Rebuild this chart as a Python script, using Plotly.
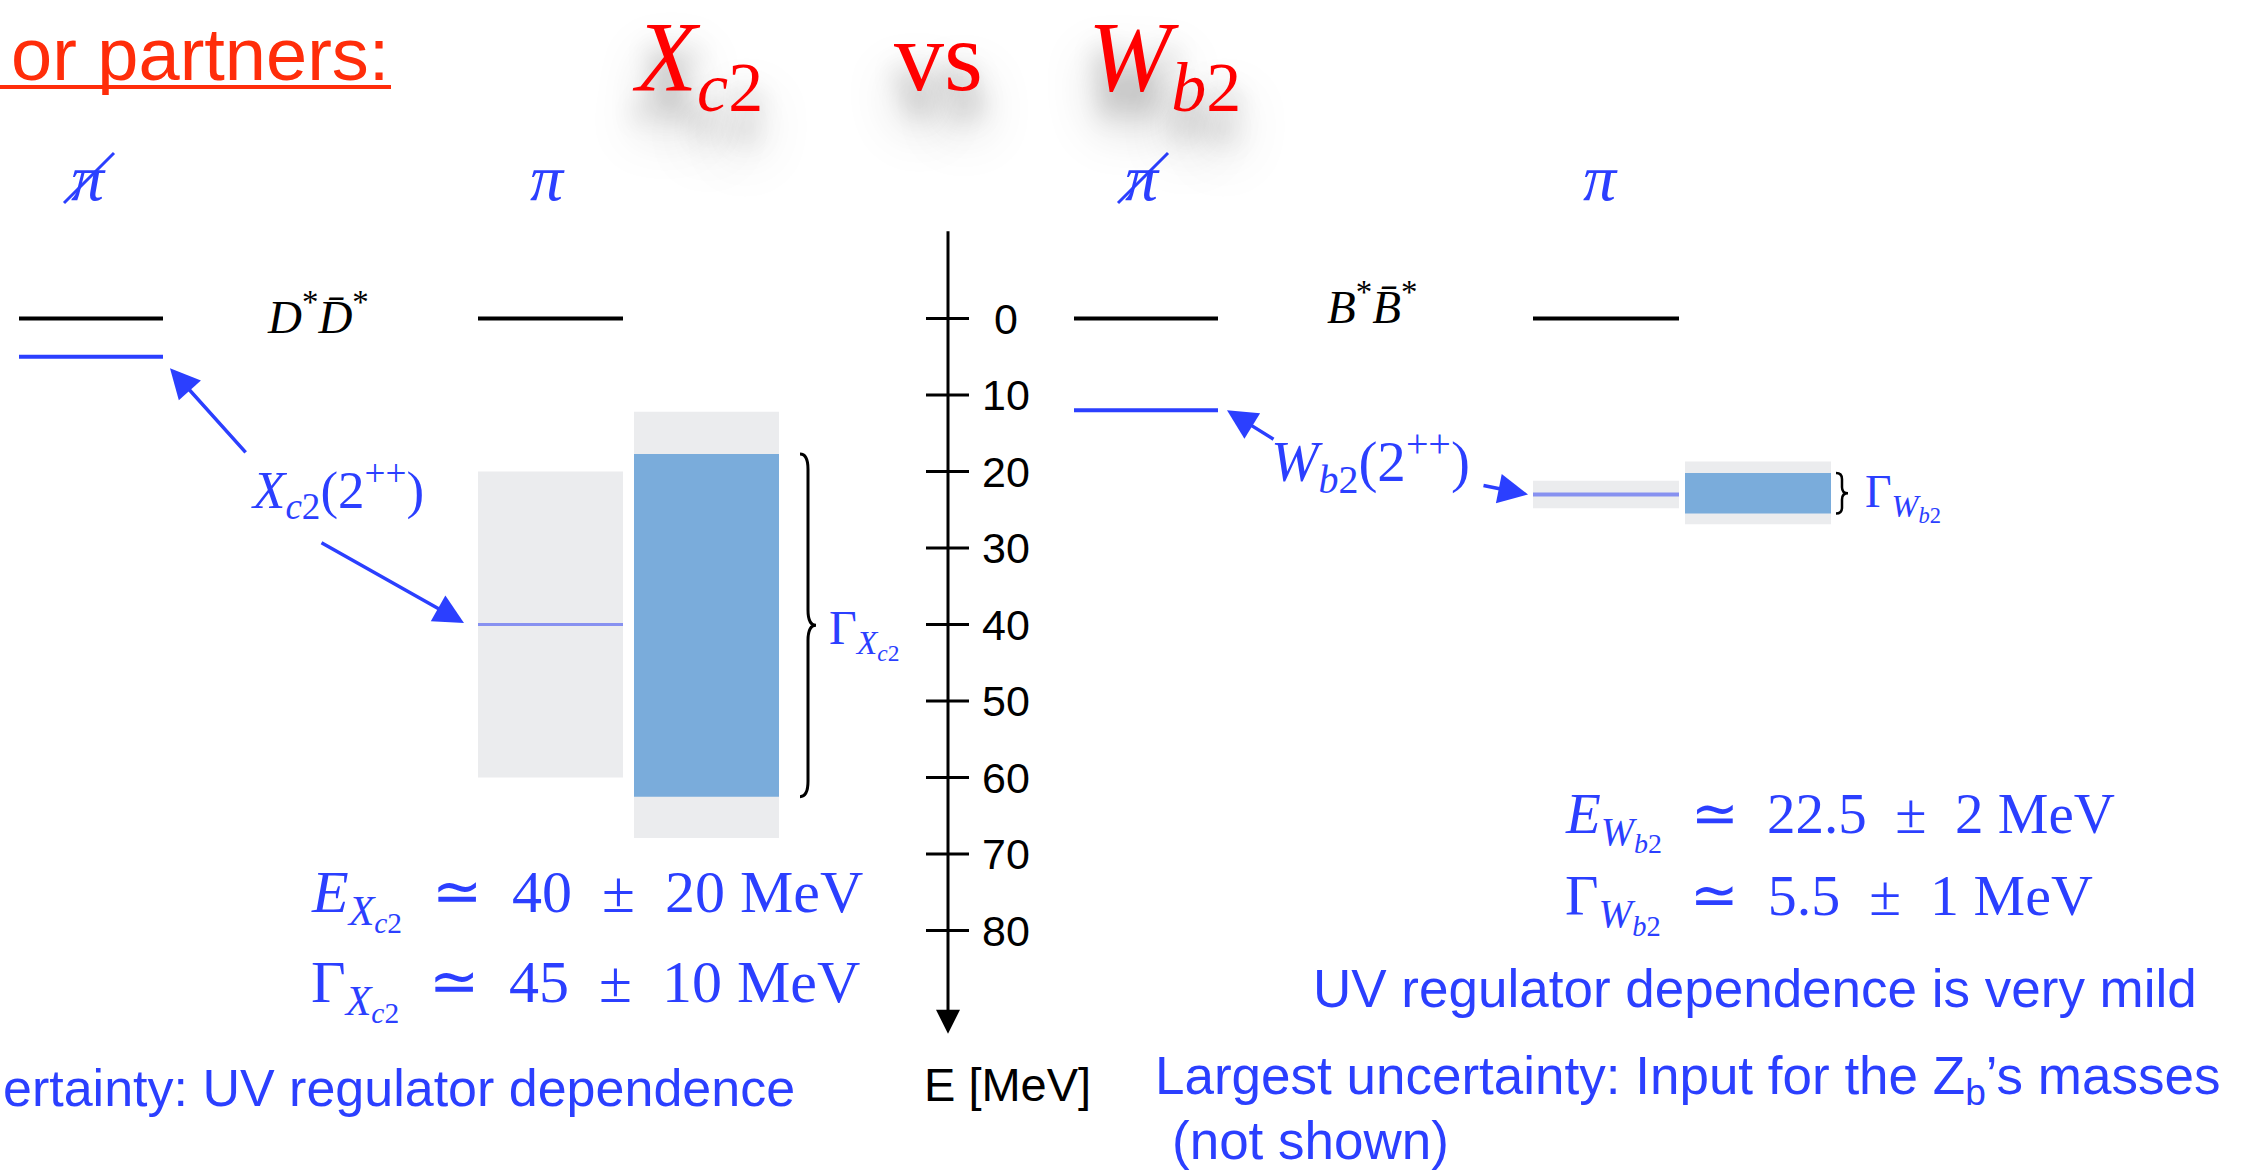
import plotly.graph_objects as go

W, H = 2252, 1170
E0_PIX = 318.5          # pixel row of E = 0
PX_PER_MEV = 7.65       # vertical scale

# ---------------- data (MeV) ----------------
tick_vals = [0, 10, 20, 30, 40, 50, 60, 70, 80]
tick_labels = ["0", "10", "20", "30", "40", "50", "60", "70", "80"]

threshold_E = 0.0                  # D*D*bar / B*B*bar threshold
xc2_E_nopi = 5.0                   # X_c2 without pions
xc2_E = 40.0                       # X_c2 with pions
xc2_E_band = [20.0, 60.0]          # E uncertainty
xc2_G_band = [17.7, 62.5]          # E +- Gamma/2
xc2_G_outer = [12.2, 67.9]         # incl. Gamma uncertainty

wb2_E_nopi = 12.0
wb2_E = 23.0
wb2_E_band = [21.2, 24.8]
wb2_G_band = [20.2, 25.5]
wb2_G_outer = [18.7, 26.9]

# ---------------- styling ----------------
BLUE = "#2b3fff"
LBLUE = "#8791f0"
GRAY = "#ebecee"
RECTBLUE = "#7aacdb"
RED = "#ff0000"
ORED = "#ff2d0a"
SERIF = "Liberation Serif"
SANS = "Liberation Sans"

# column extents (pixels, horizontal layout)
L_A, L_B, L_C = (19, 163), (478, 623), (634, 779)
R_A, R_B, R_C = (1074, 1218), (1533, 1679), (1685, 1831)
AXIS_X = 948


def py(ypix):
    return 1 - ypix / H


fig = go.Figure()
shapes = []
ann = []


def level(col, e, color, width):
    fig.add_trace(go.Scatter(x=[col[0], col[1]], y=[e, e], mode="lines",
                             line=dict(color=color, width=width),
                             hoverinfo="skip", showlegend=False))


def rect(col, band, color):
    shapes.append(dict(type="rect", xref="x", yref="y", x0=col[0], x1=col[1],
                       y0=band[0], y1=band[1], fillcolor=color,
                       line=dict(width=0), layer="below"))


def brace(x0, w, top, bot, r, width=3):
    xm = x0 + w / 2
    mid = (top + bot) / 2
    p = (f"M {x0},{top} Q {xm},{top} {xm},{top + r} L {xm},{mid - r} "
         f"Q {xm},{mid} {x0 + w},{mid} Q {xm},{mid} {xm},{mid + r} "
         f"L {xm},{bot - r} Q {xm},{bot} {x0},{bot}")
    shapes.append(dict(type="path", xref="x", yref="y", path=p,
                       line=dict(color="black", width=width)))


def text(t, x, y, size, color, font=SERIF, xanchor="center", yanchor="middle",
         yref="paper", shadow=None):
    f = dict(family=font, size=size, color=color)
    if shadow:
        f["shadow"] = shadow
    ann.append(dict(text=t, x=x, y=y, xref="x", yref=yref, showarrow=False,
                    xanchor=xanchor, yanchor=yanchor, font=f))


def arrow(tail, tip, color=BLUE, width=3.5, size=1.7):
    ann.append(dict(text="", x=tip[0], y=tip[1], ax=tail[0], ay=tail[1],
                    xref="x", yref="y", axref="x", ayref="y", showarrow=True,
                    arrowhead=2, arrowsize=size, arrowwidth=width,
                    arrowcolor=color, standoff=0, startstandoff=0))


# ---------------- left panel: X_c2 ----------------
rect(L_C, xc2_G_outer, GRAY)
rect(L_C, xc2_G_band, RECTBLUE)
rect(L_B, xc2_E_band, GRAY)
level(L_A, threshold_E, "black", 4)
level(L_B, threshold_E, "black", 4)
level(L_A, xc2_E_nopi, BLUE, 4)
level(L_B, xc2_E, LBLUE, 3)
brace(800, 16, xc2_G_band[0], xc2_G_band[1], 2.0)

# ---------------- right panel: W_b2 ----------------
rect(R_C, wb2_G_outer, GRAY)
rect(R_C, wb2_G_band, RECTBLUE)
rect(R_B, wb2_E_band, GRAY)
level(R_A, threshold_E, "black", 4)
level(R_B, threshold_E, "black", 4)
level(R_A, wb2_E_nopi, BLUE, 4)
level(R_B, wb2_E, LBLUE, 4)
brace(1836, 12, wb2_G_band[0], wb2_G_band[1], 0.8, width=2.5)

# ---------------- energy axis ----------------
AXIS_TOP, AXIS_END = -11.6, 93.5
arrow((AXIS_X, AXIS_TOP), (AXIS_X, AXIS_END), color="black", width=3, size=1.6)
for v, lab in zip(tick_vals, tick_labels):
    shapes.append(dict(type="line", xref="x", yref="y", x0=926, x1=969, y0=v, y1=v,
                       line=dict(color="black", width=3)))
    text(lab, 1006, v, 43, "black", font=SANS, yref="y")
text("E [MeV]", 1007, py(1084), 47, "black", font=SANS)

# ---------------- labels & arrows ----------------
text("<i>D</i><sup>*</sup><i>D\u0304</i><sup>*</sup>", 318, py(314), 47, "black")
text("<i>B</i><sup>*</sup><i>B\u0304</i><sup>*</sup>", 1372, py(304), 47, "black")
text("<i>X</i><sub><i>c</i>2</sub>(2<sup>++</sup>)", 337, py(490), 53, BLUE)
text("<i>W</i><sub><i>b</i>2</sub>(2<sup>++</sup>)", 1370, py(462), 57, BLUE)
text("\u0393<sub><i>X</i><sub><i>c</i>2</sub></sub>", 827, py(633), 48, BLUE, xanchor="left")
text("\u0393<sub><i>W</i><sub><i>b</i>2</sub></sub>", 1863, py(497), 46, BLUE, xanchor="left")

arrow((247, 17.7), (170, xc2_E_nopi + 1.5))
arrow((320, 29.2), (464, xc2_E - 0.2))
arrow((1275, 15.9), (1227, wb2_E_nopi))
arrow((1482, 21.8), (1528, wb2_E))

# pion labels
for xc, slashed in [(88, True), (547, False), (1142, True), (1600, False)]:
    text("<i>\u03c0</i>", xc, py(177), 66, BLUE)
    if slashed:
        shapes.append(dict(type="line", xref="x", yref="paper",
                           x0=xc - 24, x1=xc + 26, y0=py(203), y1=py(153),
                           line=dict(color=BLUE, width=3)))

# ---------------- results ----------------
SP = "\u2002"
text(f"<i>E</i><sub><i>X</i><sub><i>c</i>2</sub></sub>{SP}\u2243{SP}40{SP}\u00b1{SP}20 MeV",
     309, py(899), 60, BLUE, xanchor="left")
text(f"\u0393<sub><i>X</i><sub><i>c</i>2</sub></sub>{SP}\u2243{SP}45{SP}\u00b1{SP}10 MeV",
     309, py(989), 60, BLUE, xanchor="left")
text(f"<i>E</i><sub><i>W</i><sub><i>b</i>2</sub></sub>{SP}\u2243{SP}22.5{SP}\u00b1{SP}2 MeV",
     1563, py(820), 57, BLUE, xanchor="left")
text(f"\u0393<sub><i>W</i><sub><i>b</i>2</sub></sub>{SP}\u2243{SP}5.5{SP}\u00b1{SP}1 MeV",
     1563, py(902), 58, BLUE, xanchor="left")

text("ertainty: UV regulator dependence", 797, py(1088), 52, BLUE, font=SANS, xanchor="right")
text("UV regulator dependence is very mild", 1311, py(988), 53, BLUE, font=SANS, xanchor="left")
text("Largest uncertainty: Input for the Z<sub>b</sub>\u2019s masses", 1153, py(1079), 53, BLUE,
     font=SANS, xanchor="left")
text("(not shown)", 1170, py(1140), 53, BLUE, font=SANS, xanchor="left")

# ---------------- title (with soft drop shadow) ----------------
TSH = "0px 26px 26px rgba(0,0,0,0.28), 0px 38px 52px rgba(0,0,0,0.42)"
text("<i>X</i><sub><i>c</i>2</sub>", 630, py(63), 100, RED, xanchor="left", shadow=TSH)
text("vs", 938, py(56), 100, RED, shadow=TSH)
text("<i>W</i><sub><i>b</i>2</sub>", 1086, py(63), 100, RED, xanchor="left", shadow=TSH)

text("or partners:", 391, py(54), 74, ORED, font=SANS, xanchor="right")
shapes.append(dict(type="line", xref="paper", yref="paper", x0=0, x1=391 / W,
                   y0=py(87), y1=py(87), line=dict(color=ORED, width=4)))

fig.update_layout(
    width=W, height=H, margin=dict(l=0, r=0, t=0, b=0),
    paper_bgcolor="white", plot_bgcolor="white", showlegend=False,
    xaxis=dict(range=[0, W], visible=False, fixedrange=True),
    yaxis=dict(range=[(H - E0_PIX) / PX_PER_MEV, -E0_PIX / PX_PER_MEV],
               visible=False, fixedrange=True),
    shapes=shapes, annotations=ann,
)
fig.write_html("out.html", config={"displayModeBar": False})
